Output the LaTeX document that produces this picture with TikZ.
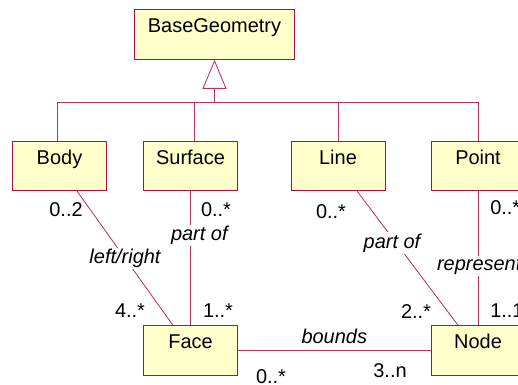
\documentclass[tikz,border=0pt]{standalone}
\usepackage{fontspec}
\setmainfont{Liberation Sans}
\usepackage{tikz}
\usetikzlibrary{arrows.meta, positioning, calc}
\definecolor{UmlRed}{HTML}{A8104A}
\definecolor{UmlYellow}{HTML}{FFFFCC}

\begin{document}
\begin{tikzpicture}[x = 0.025cm, y = -0.025cm,
						every node/.style = {font = \fontsize{14.2pt}{17pt}\selectfont},
						classbox/.style = {draw = UmlRed, fill = UmlYellow, line width = 0.7pt, minimum width = 2.35cm, inner xsep = 0pt, inner ysep = 0pt, text height = 0.58cm, text depth = 0.66cm},
						conn/.style = {draw = UmlRed!85, line width = 0.6pt},
						gen/.style = {conn, -{Triangle[open, length = 0.725cm, width = 0.6cm]}},
						role/.style = {fill = white, inner sep = 1pt, font = \fontsize{14.2pt}{17pt}\selectfont\itshape},
						mult/.style = {inner sep = 0pt}]
						\path [use as bounding box, draw = none] (0, 0) rectangle (518, 385);
						\clip (0, 0) rectangle (518, 385);
						% classes
						\node [classbox, minimum width = 3.975cm] (base) at (214.5, 34.5) {BaseGeometry};
						\node [classbox] (body) at (59.5, 166) {Body};
						\node [classbox] (surface) at (190.5, 166) {Surface};
						\node [classbox] (line) at (338, 166) {Line};
						\node [classbox] (point) at (478, 166) {Point};
						\node [classbox] (face) at (190.5, 350.5) {Face};
						\node [classbox] (node) at (478, 350.5) {Node};
						% generalisation
						\coordinate (bar) at (214.5, 102);
						\draw [gen] (bar) -- (base);
						\draw [conn] ([xshift = -0.06cm]body.north) |- (bar);
						\draw [conn] ([xshift = 0.11cm]surface.north) |- (bar);
						\draw [conn] (line.north) |- (bar);
						\draw [conn] (point.north) |- (bar);
						% associations
						\draw [conn] ([xshift = 0.44cm]body.south) -- node [role] (lr) {left/right} ([xshift = -0.44cm]face.north);
						\draw [conn] (surface) -- node [role, pos = 0.33, xshift = 0.22cm] (pof1) {part of} (face);
						\draw [conn] ([xshift = 0.48cm]line.south) -- node [role, pos = 0.385, xshift = -0.1cm] (pof2) {part of} ([xshift = -0.5cm]node.north);
						\draw [conn] (point) -- node [role, pos = 0.56, anchor = west, xshift = -1.07cm] (rep) {represent} (node);
						\draw [conn] (face) -- node [role, fill = none, above = 0.12cm] (bnd) {bounds} (node);
						% multiplicities
						\node [mult] (m1) at (66, 210) {0..2};
						\node [mult] (m2) at (216, 210) {0..*};
						\node [mult] (m3) at (130, 311) {4..*};
						\node [mult] (m4) at (218, 311) {1..*};
						\node [mult] (m5) at (331, 212) {0..*};
						\node [mult, anchor = west] (m6) at (490, 208) {0..*};
						\node [mult] (m7) at (416, 312) {2..*};
						\node [mult, anchor = west] (m8) at (490, 311) {1..1};
						\node [mult] (m9) at (390, 371) {3..n};
						\node [mult] (m10) at (271, 377) {0..*};
					\end{tikzpicture}
\end{document}
